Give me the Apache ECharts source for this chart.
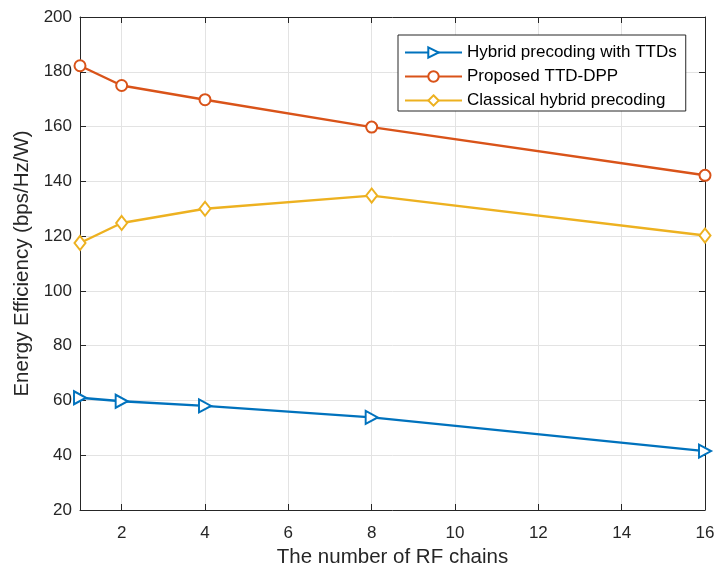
<!DOCTYPE html>
<html><head><meta charset="utf-8">
<script src="https://cdn.jsdelivr.net/npm/echarts@6/dist/echarts.min.js"></script>
<style>html,body{margin:0;padding:0;background:#fff}#c{width:717px;height:570px}</style>
</head><body><div id="c"></div>
<script>
const xValues = [1, 2, 4, 8, 16];
const hybridTTD = [61, 59.7, 58, 53.8, 41.5];
const proposed = [182.2, 175, 169.8, 159.8, 142.2];
const classical = [117.5, 124.8, 130, 134.8, 120.2];
const seriesNames = ['Hybrid precoding with TTDs', 'Proposed TTD-DPP', 'Classical hybrid precoding'];
const xTicks = [2, 4, 6, 8, 10, 12, 14, 16];
const yTicks = [20, 40, 60, 80, 100, 120, 140, 160, 180, 200];

const font = 'Liberation Sans, Arial, sans-serif';
const axisColor = '#262626';
const pair = a => xValues.map((x, i) => [x, a[i]]);

const chart = echarts.init(document.getElementById('c'), null, {renderer: 'canvas'});
const tri = 'path://M0,0L10,5L0,10Z';
function mk(name, data, color, symbol, size) {
  return {
    name, type: 'line', data: pair(data), xAxisIndex: 0, yAxisIndex: 0,
    symbol, symbolSize: size, showAllSymbol: true,
    lineStyle: {color, width: 2.4},
    itemStyle: {color: '#ffffff', borderColor: color, borderWidth: 2},
    emphasis: {disabled: true}, animation: false, clip: false
  };
}
const common = {
  axisLine: {show: true, lineStyle: {color: axisColor, width: 1}},
  axisTick: {show: true, inside: true, length: 6, lineStyle: {color: axisColor}},
  axisLabel: {color: axisColor, fontFamily: font, fontSize: 17},
};
chart.setOption({
  animation: false,
  backgroundColor: '#fff',
  grid: {left: 80, right: 12, top: 17, bottom: 60, containLabel: false, outerBoundsMode: 'none'},
  legend: {
    show: true, orient: 'vertical', left: 398, top: 35,
    data: seriesNames,
    itemWidth: 57, itemHeight: 13, itemGap: 7,
    padding: [9, 9, 2, 6],
    borderColor: '#262626', borderWidth: 1, backgroundColor: '#fff',
    textStyle: {fontFamily: font, fontSize: 17, color: '#000'},
  },
  xAxis: [
    Object.assign({}, common, {
      type: 'value', min: 1, max: 16, position: 'bottom',
      name: 'The number of RF chains', nameLocation: 'middle', nameGap: 36,
      nameTextStyle: {fontFamily: font, fontSize: 20.5, color: axisColor},
      axisLabel: Object.assign({}, common.axisLabel, {margin: 15, customValues: xTicks}),
      axisTick: Object.assign({}, common.axisTick, {customValues: xTicks}),
      splitLine: {show: true, lineStyle: {color: '#e3e3e3', width: 1}},
    }),
    Object.assign({}, common, {
      type: 'value', min: 1, max: 16, position: 'top',
      axisLabel: {show: false},
      axisTick: Object.assign({}, common.axisTick, {customValues: xTicks}),
      splitLine: {show: false},
    })
  ],
  yAxis: [
    Object.assign({}, common, {
      type: 'value', min: 20, max: 200, interval: 20, position: 'left',
      name: 'Energy Efficiency (bps/Hz/W)', nameLocation: 'middle', nameGap: 46,
      nameTextStyle: {fontFamily: font, fontSize: 20.5, color: axisColor},
      axisLabel: Object.assign({}, common.axisLabel, {margin: 8}),
      splitLine: {show: true, lineStyle: {color: '#e3e3e3', width: 1}},
    }),
    Object.assign({}, common, {
      type: 'value', min: 20, max: 200, interval: 20, position: 'right',
      axisLabel: {show: false},
      splitLine: {show: false},
    })
  ],
  series: [
    mk(seriesNames[0], hybridTTD, '#0072BD', tri, [12, 13]),
    mk(seriesNames[1], proposed, '#D95319', 'circle', 11),
    mk(seriesNames[2], classical, '#EDB120', 'diamond', [11, 14]),
  ]
});
</script></body></html>
